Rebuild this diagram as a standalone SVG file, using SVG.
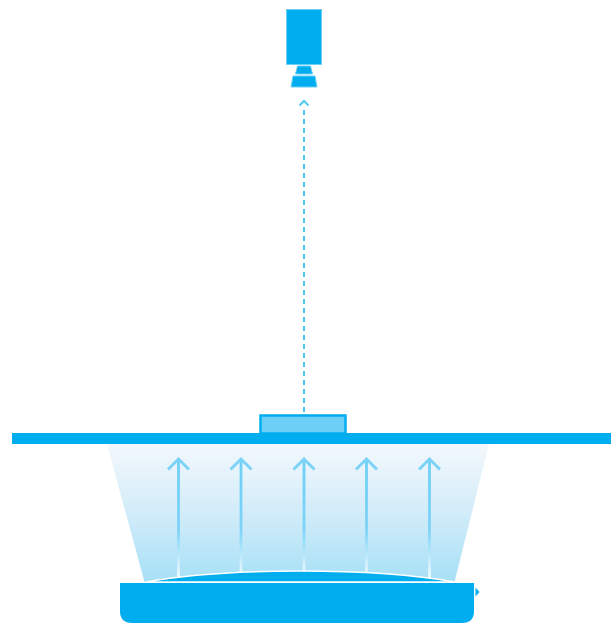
<svg xmlns="http://www.w3.org/2000/svg" width="612" height="623" viewBox="0 0 612 623">
<style>
.b{fill:#00aeef}
.e{stroke:#6dcff6;stroke-width:1;fill:#00aeef}
.v{fill:none;stroke:url(#shaft);stroke-width:2.8}
.h{fill:none;stroke:#7dd3f7;stroke-width:3}
</style>
<defs>
<linearGradient id="cone" x1="0" y1="0" x2="0" y2="1"><stop offset="0" stop-color="#f3f8fc"/><stop offset="0.5" stop-color="#d2ecf9"/><stop offset="1" stop-color="#a6e0f7"/></linearGradient>
<linearGradient id="shaft" gradientUnits="userSpaceOnUse" x1="0" y1="458" x2="0" y2="578"><stop offset="0" stop-color="#6dcff6"/><stop offset="0.6" stop-color="#7dd3f7"/><stop offset="1" stop-color="#f4fbfe"/></linearGradient>
</defs>
<g id="camera">
<rect class="e" x="286.500" y="9.500" width="35" height="55"/>
<path class="e" d="M297.500 66H310.500L312.500 74H295.500Z"/>
<path class="e" d="M293 76H315L317 87H291Z"/>
</g>
<g id="light">
<path fill="url(#cone)" d="M107 444H489L454.500 582H144.500Z"/>
</g>
<g id="plate">
<rect class="b" x="12" y="433" width="599" height="11"/>
</g>
<g id="sample">
<rect x="260.500" y="415.500" width="85" height="18" fill="#6dcff6" stroke="#00aeef" stroke-width="2.500"/>
</g>
<g id="connectors">
<path d="M304 412V106" fill="none" stroke="#4fc6f3" stroke-width="2" stroke-dasharray="5 4"/>
<path d="M299.500 105.500L304 101L308.500 105.500" fill="none" stroke="#4fc6f3" stroke-width="2"/>
<g id="rays">
<path class="v" d="M178.500 459V578"/><path class="h" d="M168 469.500L178.500 459L189 469.500"/>
<path class="v" d="M241 459V572"/><path class="h" d="M230.500 469.500L241 459L251.500 469.500"/>
<path class="v" d="M304 459V571"/><path class="h" d="M293.500 469.500L304 459L314.500 469.500"/>
<path class="v" d="M366.500 459V572"/><path class="h" d="M356 469.500L366.500 459L377 469.500"/>
<path class="v" d="M429.500 459V578"/><path class="h" d="M419 469.500L429.500 459L440 469.500"/>
</g>
</g>
<g id="source">
<path class="b" d="M146 582C190 574 250 571 300 571C360 571 410 574 455 582Z" stroke="#fff" stroke-width="1.500"/>
<path class="b" d="M120 583H474V611Q474 623 462 623H132Q120 623 120 611Z"/>
<path class="b" d="M475.500 587.500L479.500 592L475.500 596.500Z"/>
</g>
</svg>
